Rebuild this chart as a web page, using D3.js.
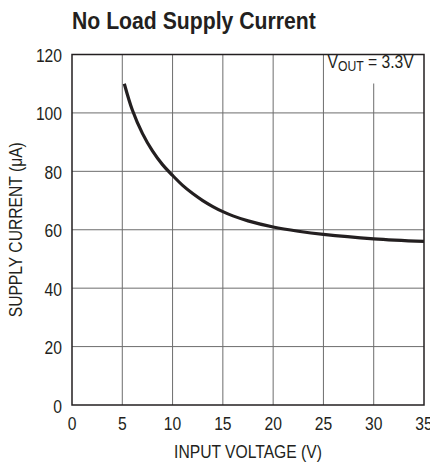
<!DOCTYPE html>
<html>
<head>
<meta charset="utf-8">
<script src="https://cdn.jsdelivr.net/npm/d3@7.9.0/dist/d3.min.js"></script>
<style>
  body { margin: 0; background: #fff; }
  svg { display: block; font-family: "Liberation Sans", Arial, sans-serif; }
</style>
</head>
<body>
<svg id="chart" width="430" height="464"></svg>
<script>
const inputVoltage = [5.2, 6, 7, 8, 9, 10, 11, 12, 13, 14, 15, 16, 17.5, 20, 22.5, 25, 30, 35];
const supplyCurrent = [110, 101, 93, 87, 82.3, 78.6, 75.2, 72.4, 70, 67.95, 66.2, 64.75, 63.05, 60.95, 59.5, 58.4, 56.9, 56];
const xTicks = [0, 5, 10, 15, 20, 25, 30, 35];
const yTicks = [0, 20, 40, 60, 80, 100, 120];

const svg = d3.select('#chart');
const plotL = 72, plotR = 424, plotT = 54.5, plotB = 405;
const ink = '#231f20';
const squeeze = 0.87; // condensed look

const x = d3.scaleLinear().domain([0, 35]).range([plotL, plotR]);
const y = d3.scaleLinear().domain([0, 120]).range([plotB, plotT]);

// condensed text helper
function label(parent, tx, ty, str, opts = {}) {
  const g = parent.append('g')
    .attr('transform', `translate(${tx},${ty})${opts.rotate ? ' rotate(-90)' : ''} scale(${opts.s || squeeze},1)`);
  return g.append('text')
    .attr('text-anchor', opts.anchor || 'middle')
    .attr('font-size', opts.size || 18)
    .attr('font-weight', opts.weight || 'normal')
    .attr('fill', ink)
    .text(str);
}

// grid
svg.append('g').selectAll('line').data(xTicks.slice(1, -1)).join('line')
  .attr('x1', d => x(d)).attr('x2', d => x(d))
  .attr('y1', plotT).attr('y2', plotB)
  .attr('stroke', '#6d6d6d').attr('stroke-width', 1);
svg.append('g').selectAll('line').data(yTicks.slice(1, -1)).join('line')
  .attr('x1', plotL).attr('x2', plotR)
  .attr('y1', d => y(d)).attr('y2', d => y(d))
  .attr('stroke', '#6d6d6d').attr('stroke-width', 1);

// white box behind the label
svg.append('rect')
  .attr('x', 325).attr('y', plotT).attr('width', plotR - 325).attr('height', 29)
  .attr('fill', '#fff');

// frame
svg.append('rect')
  .attr('x', plotL).attr('y', plotT).attr('width', plotR - plotL).attr('height', plotB - plotT)
  .attr('fill', 'none').attr('stroke', ink).attr('stroke-width', 1.5);

// curve
const pts = inputVoltage.map((v, i) => [v, supplyCurrent[i]]);
svg.append('path')
  .datum(pts)
  .attr('d', d3.line().x(d => x(d[0])).y(d => y(d[1])).curve(d3.curveCatmullRom.alpha(0.5)))
  .attr('fill', 'none').attr('stroke', ink).attr('stroke-width', 3.2);

// tick labels
xTicks.forEach(d => label(svg, x(d), 430, d));
yTicks.forEach(d => label(svg, 62, y(d) + 7.5, d, { anchor: 'end' }));

// axis titles
label(svg, (plotL + plotR) / 2, 458, 'INPUT VOLTAGE (V)');
label(svg, 22, (plotT + plotB) / 2, 'SUPPLY CURRENT (\u03bcA)', { rotate: true });

// title
label(svg, 72, 29, 'No Load Supply Current', { anchor: 'start', size: 24, weight: 'bold', s: 0.884 });

// V_OUT label
const lab = label(svg, 327.5, 68, 'V', { anchor: 'start' });
lab.append('tspan').attr('font-size', 14).attr('dy', 3).text('OUT');
lab.append('tspan').attr('dy', -3).text(' = 3.3V');
</script>
</body>
</html>
